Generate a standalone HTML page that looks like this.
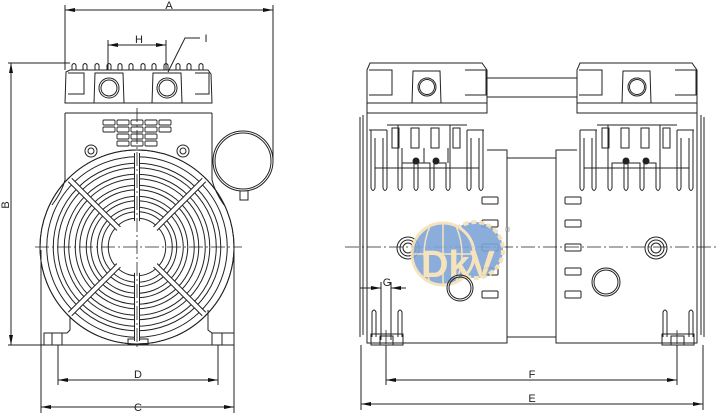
<!DOCTYPE html>
<html><head><style>html,body{margin:0;padding:0;background:#fff}svg{display:block}</style></head>
<body>
<svg width="720" height="415" viewBox="0 0 720 415" xmlns="http://www.w3.org/2000/svg" font-family="Liberation Sans, sans-serif">
<defs>
<marker id="ar" markerWidth="10" markerHeight="6" refX="10" refY="3" orient="auto-start-reverse" markerUnits="userSpaceOnUse"><path d="M0,1 L10,3 L0,5 Z" fill="#111"/></marker>
</defs>
<g fill="none" stroke="#222" stroke-width="1">
<line x1="65" y1="5" x2="65" y2="70"/><line x1="273" y1="5" x2="273" y2="160"/>
<line x1="8" y1="63" x2="70" y2="63"/><line x1="8" y1="345" x2="44" y2="345"/>
<line x1="41" y1="250" x2="41" y2="413"/><line x1="234" y1="250" x2="234" y2="413"/>
<line x1="58" y1="345" x2="58" y2="385"/><line x1="218" y1="345" x2="218" y2="385"/>
<line x1="108" y1="40" x2="108" y2="70"/><line x1="166" y1="40" x2="166" y2="70"/>
<line x1="65" y1="10" x2="273" y2="10" marker-start="url(#ar)" marker-end="url(#ar)"/>
<line x1="108" y1="45" x2="166" y2="45" marker-start="url(#ar)" marker-end="url(#ar)"/>
<line x1="11" y1="63" x2="11" y2="345" marker-start="url(#ar)" marker-end="url(#ar)"/>
<line x1="58" y1="380" x2="218" y2="380" marker-start="url(#ar)" marker-end="url(#ar)"/>
<line x1="41" y1="407" x2="234" y2="407" marker-start="url(#ar)" marker-end="url(#ar)"/>
<polyline points="200,38 185,38 168,72"/>
<path d="M72,70 v-5 q2,-3 4,0 v5 M83,70 v-5 q2,-3 4,0 v5 M95,70 v-5 q2,-3 4,0 v5 M107,70 v-5 q2,-3 4,0 v5 M118,70 v-5 q2,-3 4,0 v5 M129,70 v-5 q2,-3 4,0 v5 M141,70 v-5 q2,-3 4,0 v5 M152,70 v-5 q2,-3 4,0 v5 M164,70 v-5 q2,-3 4,0 v5 M176,70 v-5 q2,-3 4,0 v5 M187,70 v-5 q2,-3 4,0 v5 M199,70 v-5 q2,-3 4,0 v5"/>
<path d="M65,103 L66,72 L70,70 L208,70 L211,74 L212,103 Z"/>
<line x1="65" y1="113" x2="212" y2="113"/>
<path d="M68,73 L84,73 L84,94 L68,94 M195,73 L209,73 L209,94 L195,94"/>
<path d="M94,103 L95,73 L123,73 L124,103 M152,103 L153,73 L181,73 L182,103"/>
<circle cx="109" cy="88" r="10"/><circle cx="109" cy="88" r="8"/>
<circle cx="167" cy="88" r="10"/><circle cx="167" cy="88" r="8"/>
<path d="M65,113 L65,180 Q62,192 52,205"/><path d="M212,113 L212,180 Q215,192 224,205"/>
<g stroke-width="0.9">
<rect x="103" y="120" width="12" height="5" rx="1"/><rect x="117" y="120" width="12" height="5" rx="1"/><rect x="131" y="120" width="12" height="5" rx="1"/><rect x="145" y="120" width="12" height="5" rx="1"/><rect x="159" y="120" width="12" height="5" rx="1"/>
<rect x="103" y="127" width="12" height="5" rx="1"/><rect x="117" y="127" width="12" height="5" rx="1"/><rect x="131" y="127" width="12" height="5" rx="1"/><rect x="145" y="127" width="12" height="5" rx="1"/><rect x="159" y="127" width="12" height="5" rx="1"/>
<rect x="117" y="134" width="12" height="5" rx="1"/><rect x="131" y="134" width="12" height="5" rx="1"/><rect x="145" y="134" width="12" height="5" rx="1"/>
<rect x="117" y="141" width="12" height="5" rx="1"/><rect x="131" y="141" width="12" height="5" rx="1"/><rect x="145" y="141" width="12" height="5" rx="1"/>
</g>
<circle cx="91" cy="151" r="6"/><circle cx="91" cy="151" r="3"/>
<circle cx="183" cy="151" r="6"/><circle cx="183" cy="151" r="3"/>
<circle cx="243" cy="161" r="30"/><circle cx="243" cy="161" r="28"/>
<path d="M240,191 L240,200 L248,200 L248,191"/>
<path d="M44,345 L44,333 L67,333 L70,330 L70,310 M234,345 L234,333 L212,333 L208,330 L208,310"/>
<line x1="44" y1="345" x2="234" y2="345"/>
<path d="M52,333 v12 M62,333 v12 M212,333 v12 M222,333 v12"/>
<rect x="128" y="339" width="20" height="5"/>
<circle cx="137" cy="247" r="97"/>
</g>
<g fill="none">
<g stroke="#222" stroke-width="7.5">
<circle cx="137" cy="247" r="87"/><circle cx="137" cy="247" r="76"/><circle cx="137" cy="247" r="65"/><circle cx="137" cy="247" r="54"/><circle cx="137" cy="247" r="43"/><circle cx="137" cy="247" r="32"/>
</g>
<g stroke="#fff" stroke-width="5.5">
<circle cx="137" cy="247" r="87"/><circle cx="137" cy="247" r="76"/><circle cx="137" cy="247" r="65"/><circle cx="137" cy="247" r="54"/><circle cx="137" cy="247" r="43"/><circle cx="137" cy="247" r="32"/>
</g>
<g stroke="#222" stroke-width="6">
<line x1="137" y1="153" x2="137" y2="341"/><line x1="70" y1="180" x2="204" y2="314"/><line x1="204" y1="180" x2="70" y2="314"/>
</g>
<g stroke="#fff" stroke-width="4">
<line x1="137" y1="151" x2="137" y2="343"/><line x1="69" y1="179" x2="205" y2="315"/><line x1="205" y1="179" x2="69" y2="315"/>
</g>
<circle cx="137" cy="247" r="26" fill="#fff"/>
<circle cx="137" cy="247" r="97" stroke="#222"/>
</g>
<g stroke="#222" stroke-width="0.8" stroke-dasharray="14,3,2,3">
<line x1="35" y1="247" x2="242" y2="247"/><line x1="137" y1="108" x2="137" y2="350"/>
</g>
<g font-size="11" fill="#222" text-anchor="middle">
<text x="169" y="9">A</text><text x="139" y="43">H</text><text x="206" y="42">I</text>
<text x="138" y="378">D</text><text x="138" y="411">C</text>
<text x="9" y="205" transform="rotate(-90 9 205)">B</text>
</g>

<g fill="none" stroke="#222" stroke-width="1">
<path d="M367,103 L367,70 L370,63 L482,63 L487,70 L487,103 Z"/>
<path d="M369,70 L392,70 L392,95 L369,95 M465,70 L486,70 L486,95 L465,95 M412,103 L413,71 L440,71 L441,103"/>
<circle cx="427" cy="87" r="9"/><circle cx="427" cy="87" r="7.5"/>
<path d="M577,103 L577,70 L580,63 L692,63 L697,70 L697,103 Z"/>
<path d="M579,70 L602,70 L602,95 L579,95 M675,70 L696,70 L696,95 L675,95 M622,103 L623,71 L650,71 L651,103"/>
<circle cx="637" cy="87" r="9"/><circle cx="637" cy="87" r="7.5"/>
<line x1="487" y1="78" x2="577" y2="78"/><line x1="487" y1="97" x2="577" y2="97"/>
<rect x="367" y="103" width="120" height="10"/><rect x="577" y="103" width="120" height="10"/>
<path d="M367,113 L367,343 L507,343 L507,150 L487,150"/>
<path d="M697,113 L697,343 L556,343 L556,150 L577,150"/>
<path d="M363,115 v220 M360,117 v220 M701,115 v220 M704,117 v220"/>
<line x1="507" y1="158" x2="556" y2="158"/><line x1="507" y1="337" x2="556" y2="337"/>
<!-- left unit fins -->
<path d="M369,130 h18 M367,130 v0 M371,130 v58 q2,5 4,0 v-50 M383,138 v50 q2,5 4,0 v-58 M387,125 h80 M398,125 v63 q2,5 4,0 v-25 h12 v25 q2,5 4,0 v-25 h12 v25 q2,5 4,0 v-25 h12 v25 q2,5 4,0 v-63 M467,130 h17 M467,130 v58 q2,5 4,0 v-50 M479,138 v50 q2,5 4,0 v-58"/>
<rect x="392" y="128" width="7" height="20"/><rect x="411" y="128" width="8" height="20"/><rect x="431" y="128" width="8" height="20"/><rect x="453" y="128" width="7" height="20"/>
<line x1="402" y1="148" x2="402" y2="163"/><line x1="424" y1="148" x2="424" y2="163"/><line x1="448" y1="148" x2="448" y2="163"/>
<circle cx="416" cy="161" r="3" fill="#222"/><circle cx="436" cy="161" r="3" fill="#222"/>
<line x1="375" y1="168" x2="479" y2="168"/>
<!-- right unit fins -->
<path d="M580,130 h17 M580,130 v58 q2,5 4,0 v-50 M592,138 v50 q2,5 4,0 v-58 M597,125 h80 M608,125 v63 q2,5 4,0 v-25 h12 v25 q2,5 4,0 v-25 h12 v25 q2,5 4,0 v-25 h12 v25 q2,5 4,0 v-63 M677,130 h17 M677,130 v58 q2,5 4,0 v-50 M689,138 v50 q2,5 4,0 v-58"/>
<rect x="602" y="128" width="7" height="20"/><rect x="621" y="128" width="8" height="20"/><rect x="641" y="128" width="8" height="20"/><rect x="663" y="128" width="7" height="20"/>
<circle cx="626" cy="161" r="3" fill="#222"/><circle cx="646" cy="161" r="3" fill="#222"/>
<line x1="584" y1="168" x2="689" y2="168"/>
<rect x="482" y="197" width="16" height="7" rx="1"/><rect x="482" y="220" width="16" height="7" rx="1"/><rect x="482" y="244" width="16" height="7" rx="1"/><rect x="482" y="268" width="16" height="7" rx="1"/><rect x="482" y="291" width="16" height="7" rx="1"/>
<rect x="565" y="197" width="16" height="7" rx="1"/><rect x="565" y="220" width="16" height="7" rx="1"/><rect x="565" y="244" width="16" height="7" rx="1"/><rect x="565" y="268" width="16" height="7" rx="1"/><rect x="565" y="291" width="16" height="7" rx="1"/>
<circle cx="408" cy="248" r="11"/><circle cx="408" cy="248" r="8"/><circle cx="408" cy="248" r="5"/>
<circle cx="656" cy="248" r="11"/><circle cx="656" cy="248" r="8"/><circle cx="656" cy="248" r="5"/>
<circle cx="606" cy="282" r="14"/><circle cx="606" cy="282" r="12"/>
<path d="M372,337 v-25 q2,-4 4,0 v25 M398,337 v-25 q2,-4 4,0 v25 M663,337 v-25 q2,-4 4,0 v25 M689,337 v-25 q2,-4 4,0 v25"/>
<rect x="371" y="334" width="32" height="11"/><rect x="662" y="334" width="32" height="11"/>
<rect x="380" y="336" width="13" height="9"/><rect x="671" y="336" width="13" height="9"/>
<line x1="361" y1="345" x2="361" y2="410"/><line x1="703" y1="345" x2="703" y2="410"/>
<line x1="386" y1="345" x2="386" y2="385"/><line x1="677" y1="345" x2="677" y2="385"/>
<line x1="386" y1="380" x2="677" y2="380" marker-start="url(#ar)" marker-end="url(#ar)"/>
<line x1="361" y1="404" x2="703" y2="404" marker-start="url(#ar)" marker-end="url(#ar)"/>
<line x1="381" y1="282" x2="381" y2="340"/><line x1="391" y1="282" x2="391" y2="340"/>
<line x1="360" y1="288" x2="381" y2="288" marker-end="url(#ar)"/>
<line x1="406" y1="288" x2="391" y2="288" marker-end="url(#ar)"/>
</g>
<g stroke="#222" stroke-width="0.8" stroke-dasharray="14,3,2,3" fill="none">
<line x1="345" y1="247" x2="718" y2="247"/>
<line x1="386" y1="330" x2="386" y2="350"/><line x1="677" y1="330" x2="677" y2="350"/>
</g>
<g opacity="0.9">
<circle cx="475" cy="250" r="28" fill="#7fa5d8" stroke="#f6e0b5" stroke-width="4" stroke-dasharray="5,3"/>
<circle cx="443" cy="254" r="31" fill="#7fa5d8" stroke="#f6e0b5" stroke-width="3"/>
<path d="M443,223 v62 M412,254 h62 M430,226 q-12,28 0,56 M456,226 q12,28 0,56" stroke="#f6e0b5" fill="none" stroke-width="1.5"/>
<text x="458" y="277" font-size="38" font-weight="bold" fill="#f6e0b5" text-anchor="middle" font-family="Liberation Sans, sans-serif">DkV</text>
</g>
<circle cx="460" cy="288" r="13" fill="none" stroke="#222"/><circle cx="460" cy="288" r="11" fill="none" stroke="#222"/>
<text x="505" y="232" font-size="7" fill="#888">®</text>
<g font-size="11" fill="#222" text-anchor="middle">
<text x="532" y="378">F</text><text x="532" y="402">E</text><text x="387" y="286">G</text>
</g>
</svg>
</body></html>
